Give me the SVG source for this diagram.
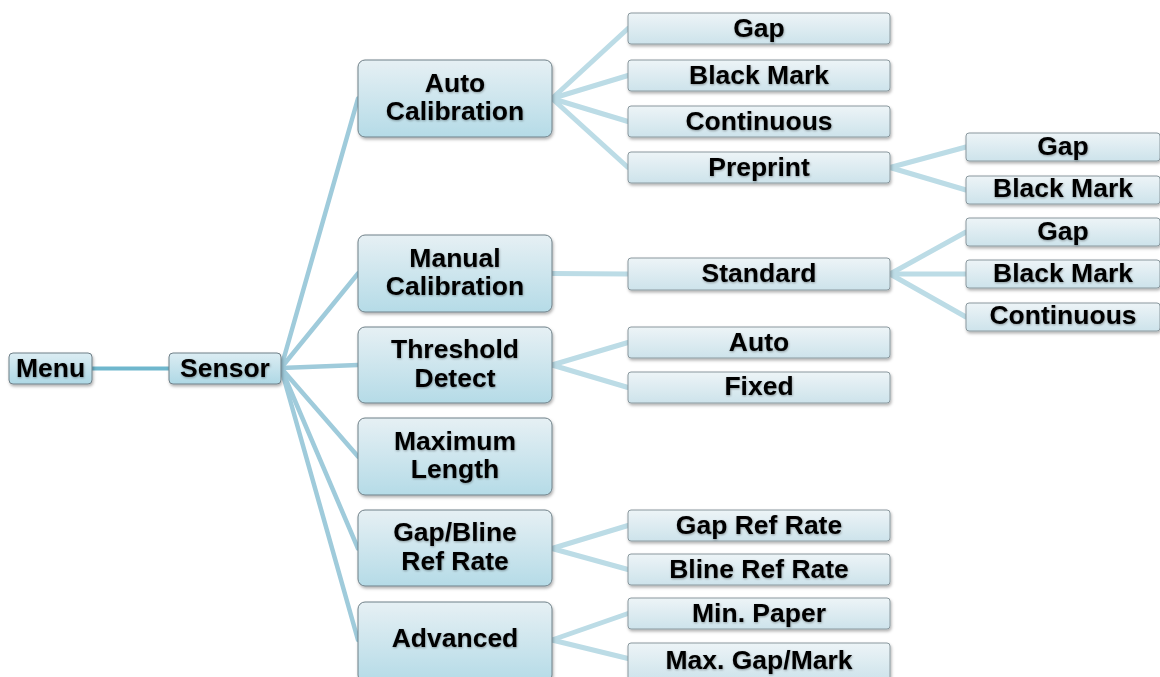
<svg xmlns="http://www.w3.org/2000/svg" width="1160" height="677" viewBox="0 0 1160 677">
<defs>
<linearGradient id="g1" x1="0" y1="0" x2="0" y2="1">
<stop offset="0" stop-color="#dcedf3"/><stop offset="1" stop-color="#aed8e5"/>
</linearGradient>
<linearGradient id="g2" x1="0" y1="0" x2="0" y2="1">
<stop offset="0" stop-color="#e6f0f4"/><stop offset="1" stop-color="#b5dbe7"/>
</linearGradient>
<linearGradient id="g3" x1="0" y1="0" x2="0" y2="1">
<stop offset="0" stop-color="#edf4f7"/><stop offset="1" stop-color="#cde3eb"/>
</linearGradient>
<filter id="sh" x="-10%" y="-20%" width="120%" height="150%">
<feDropShadow dx="1" dy="2" stdDeviation="1.5" flood-color="#000" flood-opacity="0.3"/>
</filter>
<filter id="ts" x="-10%" y="-30%" width="120%" height="160%">
<feDropShadow dx="0.5" dy="1" stdDeviation="1" flood-color="#000" flood-opacity="0.35"/>
</filter>
</defs>
<style>
.b1{fill:url(#g1);stroke:#6f8088;stroke-width:1;filter:url(#sh)}
.b2{fill:url(#g2);stroke:#6f8088;stroke-width:1;filter:url(#sh)}
.b3{fill:url(#g3);stroke:#8a989e;stroke-width:1;filter:url(#sh)}
text{font-family:"Liberation Sans",Arial,sans-serif;font-weight:bold;font-size:25px;fill:#000;text-anchor:middle;filter:url(#ts)}
.c0{stroke:#6fb7cd;stroke-width:4;fill:none}
.c1{stroke:#9fcbdb;stroke-width:4.5;fill:none;stroke-linecap:round}
.c2{stroke:#bcdce6;stroke-width:5;fill:none;stroke-linecap:round}
</style>
<rect width="1160" height="677" fill="#fff"/>
<g id="connectors">
<line class="c0" x1="92" y1="368.5" x2="169" y2="368.5"/>
<line class="c1" x1="281" y1="368" x2="358" y2="98.5"/>
<line class="c1" x1="281" y1="368" x2="358" y2="273.5"/>
<line class="c1" x1="281" y1="368" x2="358" y2="365"/>
<line class="c1" x1="281" y1="368" x2="358" y2="456.5"/>
<line class="c1" x1="281" y1="368" x2="358" y2="548.5"/>
<line class="c1" x1="281" y1="368" x2="358" y2="640"/>
<line class="c2" x1="552" y1="98.5" x2="628" y2="28.5"/>
<line class="c2" x1="552" y1="98.5" x2="628" y2="75.5"/>
<line class="c2" x1="552" y1="98.5" x2="628" y2="121.5"/>
<line class="c2" x1="552" y1="98.5" x2="628" y2="167.5"/>
<line class="c2" x1="552" y1="273.5" x2="628" y2="274"/>
<line class="c2" x1="552" y1="365" x2="628" y2="342.5"/>
<line class="c2" x1="552" y1="365" x2="628" y2="387.5"/>
<line class="c2" x1="552" y1="548.5" x2="628" y2="525.5"/>
<line class="c2" x1="552" y1="548.5" x2="628" y2="569.5"/>
<line class="c2" x1="552" y1="640" x2="628" y2="613.5"/>
<line class="c2" x1="552" y1="640" x2="628" y2="658.5"/>
<line class="c2" x1="890" y1="167.5" x2="966" y2="147"/>
<line class="c2" x1="890" y1="167.5" x2="966" y2="190"/>
<line class="c2" x1="890" y1="274" x2="966" y2="232"/>
<line class="c2" x1="890" y1="274" x2="966" y2="274"/>
<line class="c2" x1="890" y1="274" x2="966" y2="317"/>
</g>
<g id="menu"><rect class="b1" x="9" y="353" width="83" height="31" rx="4"/><text transform="translate(50.5,377) scale(1.06,1)">Menu</text></g>
<g id="sensor"><rect class="b1" x="169" y="353" width="112" height="31" rx="4"/><text transform="translate(225,377) scale(1.06,1)">Sensor</text></g>

<g id="auto-calibration"><rect class="b2" x="358" y="60" width="194" height="77" rx="7"/><text transform="translate(455,91.5) scale(1.06,1)">Auto</text><text transform="translate(455,120) scale(1.06,1)">Calibration</text></g>
<g id="manual-calibration"><rect class="b2" x="358" y="235" width="194" height="77" rx="7"/><text transform="translate(455,266.5) scale(1.06,1)">Manual</text><text transform="translate(455,295) scale(1.06,1)">Calibration</text></g>
<g id="threshold-detect"><rect class="b2" x="358" y="327" width="194" height="76" rx="7"/><text transform="translate(455,358) scale(1.06,1)">Threshold</text><text transform="translate(455,386.5) scale(1.06,1)">Detect</text></g>
<g id="maximum-length"><rect class="b2" x="358" y="418" width="194" height="77" rx="7"/><text transform="translate(455,449.5) scale(1.06,1)">Maximum</text><text transform="translate(455,478) scale(1.06,1)">Length</text></g>
<g id="gap-bline-ref-rate"><rect class="b2" x="358" y="510" width="194" height="76" rx="7"/><text transform="translate(455,541) scale(1.06,1)">Gap/Bline</text><text transform="translate(455,569.5) scale(1.06,1)">Ref Rate</text></g>
<g id="advanced"><rect class="b2" x="358" y="602" width="194" height="80" rx="7"/><text transform="translate(455,647) scale(1.06,1)">Advanced</text></g>

<g id="ac-gap"><rect class="b3" x="628" y="13" width="262" height="31" rx="3"/><text transform="translate(759,37) scale(1.06,1)">Gap</text></g>
<g id="ac-black-mark"><rect class="b3" x="628" y="60" width="262" height="31" rx="3"/><text transform="translate(759,84) scale(1.06,1)">Black Mark</text></g>
<g id="ac-continuous"><rect class="b3" x="628" y="106" width="262" height="31" rx="3"/><text transform="translate(759,130) scale(1.06,1)">Continuous</text></g>
<g id="ac-preprint"><rect class="b3" x="628" y="152" width="262" height="31" rx="3"/><text transform="translate(759,176) scale(1.06,1)">Preprint</text></g>
<g id="mc-standard"><rect class="b3" x="628" y="258" width="262" height="32" rx="3"/><text transform="translate(759,282) scale(1.06,1)">Standard</text></g>
<g id="td-auto"><rect class="b3" x="628" y="327" width="262" height="31" rx="3"/><text transform="translate(759,351) scale(1.06,1)">Auto</text></g>
<g id="td-fixed"><rect class="b3" x="628" y="372" width="262" height="31" rx="3"/><text transform="translate(759,395) scale(1.06,1)">Fixed</text></g>
<g id="gap-ref-rate"><rect class="b3" x="628" y="510" width="262" height="31" rx="3"/><text transform="translate(759,534) scale(1.06,1)">Gap Ref Rate</text></g>
<g id="bline-ref-rate"><rect class="b3" x="628" y="554" width="262" height="31" rx="3"/><text transform="translate(759,578) scale(1.06,1)">Bline Ref Rate</text></g>
<g id="min-paper"><rect class="b3" x="628" y="598" width="262" height="31" rx="3"/><text transform="translate(759,622) scale(1.06,1)">Min. Paper</text></g>
<g id="max-gap-mark"><rect class="b3" x="628" y="643" width="262" height="38" rx="3"/><text transform="translate(759,669) scale(1.06,1)">Max. Gap/Mark</text></g>

<g id="pp-gap"><rect class="b3" x="966" y="133" width="194" height="28" rx="3"/><text transform="translate(1063,155) scale(1.06,1)">Gap</text></g>
<g id="pp-black-mark"><rect class="b3" x="966" y="176" width="194" height="28" rx="3"/><text transform="translate(1063,197) scale(1.06,1)">Black Mark</text></g>
<g id="st-gap"><rect class="b3" x="966" y="218" width="194" height="28" rx="3"/><text transform="translate(1063,240) scale(1.06,1)">Gap</text></g>
<g id="st-black-mark"><rect class="b3" x="966" y="260" width="194" height="28" rx="3"/><text transform="translate(1063,282) scale(1.06,1)">Black Mark</text></g>
<g id="st-continuous"><rect class="b3" x="966" y="303" width="194" height="28" rx="3"/><text transform="translate(1063,324) scale(1.06,1)">Continuous</text></g>
</svg>
